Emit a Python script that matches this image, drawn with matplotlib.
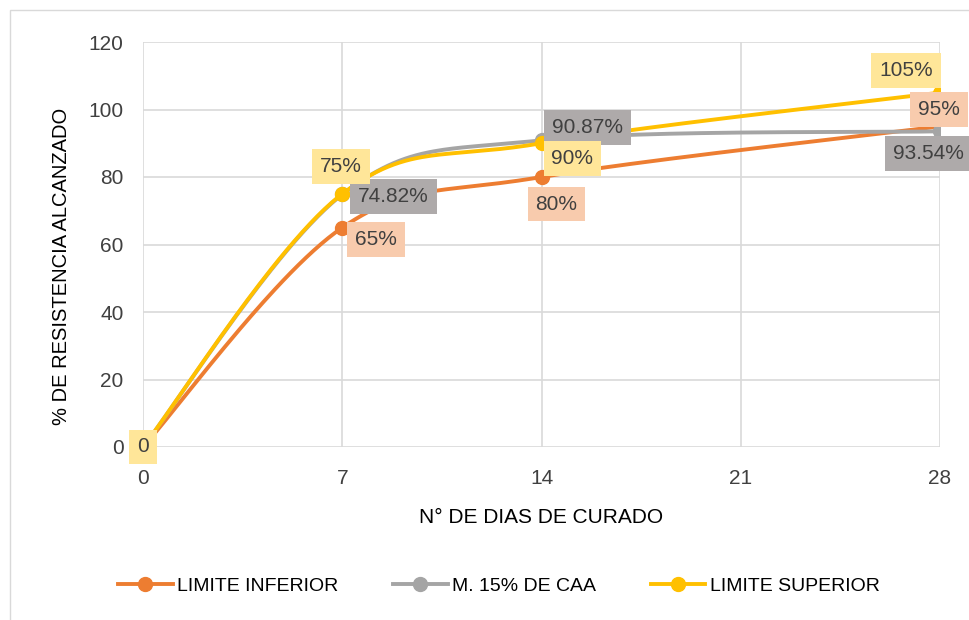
import numpy as np
import matplotlib.pyplot as plt
from matplotlib.patches import Rectangle

plt.rcParams['font.family'] = ['Liberation Sans', 'DejaVu Sans']

dias = [0, 7, 14, 28]
limite_inferior = [0, 65, 80, 95]
m15_caa = [0, 74.82, 90.87, 93.54]
limite_superior = [0, 75, 90, 105]

lbl_inferior = ['0', '65%', '80%', '95%']
lbl_caa = ['0', '74.82%', '90.87%', '93.54%']
lbl_superior = ['0', '75%', '90%', '105%']

x_ticks = [0, 7, 14, 21, 28]
y_ticks = [0, 20, 40, 60, 80, 100, 120]

TXT = '#404040'


def smooth(ax, xs, ys, n=60):
    # Excel-like smoothed line, computed in display space
    pts = ax.transData.transform(np.column_stack([xs, ys]))
    out = []
    for i in range(len(pts) - 1):
        p0 = pts[i - 1] if i > 0 else pts[i]
        p1, p2 = pts[i], pts[i + 1]
        p3 = pts[i + 2] if i + 2 < len(pts) else pts[i + 1]
        c1 = p1 + (p2 - p0) / 6
        c2 = p2 - (p3 - p1) / 6
        t = np.linspace(0, 1, n)[:, None]
        seg = ((1 - t) ** 3) * p1 + 3 * ((1 - t) ** 2) * t * c1 + 3 * (1 - t) * t ** 2 * c2 + t ** 3 * p2
        out.append(seg if i == 0 else seg[1:])
    out = ax.transData.inverted().transform(np.vstack(out))
    return out[:, 0], out[:, 1]


fig = plt.figure(figsize=(9.69, 6.2), dpi=100)
fig.patches.append(Rectangle((10 / 969, -0.1), 1.2, 1 - 10 / 620 + 0.1, transform=fig.transFigure,
                             fill=False, edgecolor='#D9D9D9', linewidth=1))
ax = fig.add_axes([143 / 969, 1 - 447 / 620, (940 - 143) / 969, (447 - 42) / 620])
ax.set_xlim(0, 28)
ax.set_ylim(0, 120)
ax.set_xticks(x_ticks)
ax.set_yticks(y_ticks)
ax.grid(True, color='#D9D9D9', linewidth=1.2)
ax.set_axisbelow(True)
for s in ax.spines.values():
    s.set_visible(False)
ax.tick_params(length=0, labelsize=15, colors=TXT)
ax.tick_params(axis='x', pad=16)
ax.tick_params(axis='y', pad=14)
ax.set_xlabel('N° DE DIAS DE CURADO', fontsize=15, color='black', labelpad=14)
ax.set_ylabel('% DE RESISTENCIA ALCANZADO', fontsize=14.5, color='black')
ax.yaxis.set_label_coords(-0.09, 0.447)

series = [
    (limite_inferior, lbl_inferior, '#ED7D31', '#F8CBAD', 'LIMITE INFERIOR',
     [(0, 0), (34, -12), (15, -27), (-1, 17)]),
    (m15_caa, lbl_caa, '#A5A5A5', '#AEAAAA', 'M. 15% DE CAA',
     [(0, 0), (51, -2), (46, 13), (-12, -22)]),
    (limite_superior, lbl_superior, '#FFC000', '#FFE699', 'LIMITE SUPERIOR',
     [(0, 0), (-1, 27), (31, -15), (-34, 22)]),
]

for k, (vals, labels, color, box, name, offs) in enumerate(series):
    sx, sy = smooth(ax, dias, vals)
    ax.plot(sx, sy, color=color, linewidth=2.8, zorder=3 + k, solid_capstyle='round')
    ax.plot(dias, vals, 'o', color=color, markersize=10, zorder=3 + k)
    ax.plot([], [], '-o', color=color, linewidth=2.8, markersize=10, label=name)
    for xv, yv, lb, off in zip(dias, vals, labels, offs):
        ax.annotate(lb, (xv, yv), xytext=off, textcoords='offset pixels',
                    ha='center', va='center', fontsize=15, color=TXT, zorder=10 + k,
                    annotation_clip=False,
                    bbox=dict(boxstyle='square,pad=0.38', facecolor=box, edgecolor='none'))

fig.legend(loc='center', bbox_to_anchor=(0.515, 1 - 586 / 620), ncol=3, frameon=False,
           fontsize=14, handlelength=2.8, columnspacing=2.8, handletextpad=0.25)

fig.savefig('out.png', dpi=100)
